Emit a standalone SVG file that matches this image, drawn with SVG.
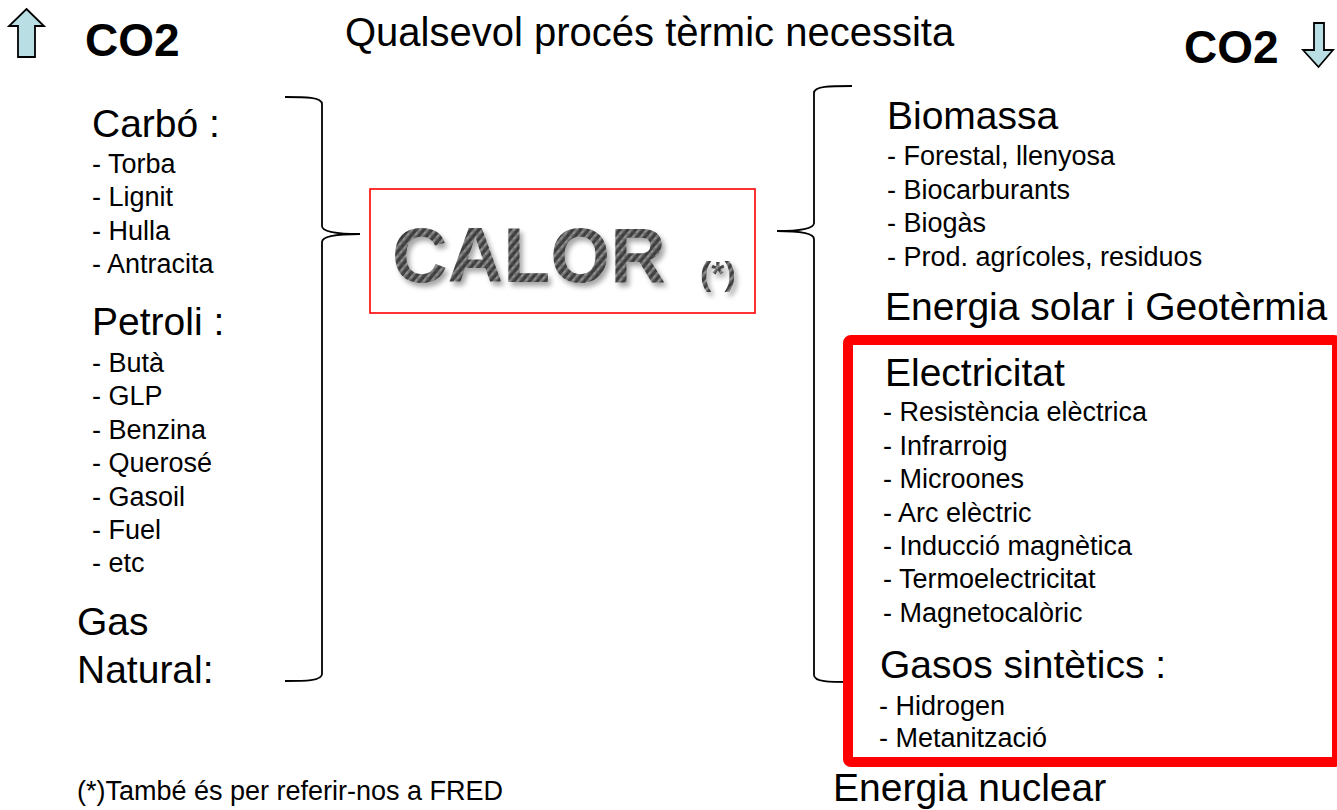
<svg xmlns="http://www.w3.org/2000/svg" width="1337" height="810" viewBox="0 0 1337 810">
<style>
text{font-family:"Liberation Sans",Arial,sans-serif;fill:#000}
.h{font-size:39px}
.i{font-size:27px}
.co2{font-size:46px;font-weight:bold}
.br{fill:none;stroke:#000;stroke-width:1.8}
.arr{fill:#B9DFE4;stroke:#000;stroke-width:1.8;stroke-linejoin:miter}
</style>
<defs>
<pattern id="carbon" width="6" height="6" patternUnits="userSpaceOnUse" patternTransform="rotate(-50)">
<rect width="6" height="6" fill="#3c3c3c"/>
<rect width="6" height="2.6" fill="#8e8e8e"/>
<rect x="0" y="0" width="3" height="6" fill="#555" opacity="0.35"/>
</pattern>
<filter id="sh" x="-10%" y="-10%" width="130%" height="140%">
<feDropShadow dx="3" dy="4" stdDeviation="2.5" flood-color="#000" flood-opacity="0.35"/>
</filter>
</defs>
<rect width="1337" height="810" fill="#fff"/>

<g id="co2-up">
<path class="arr" d="M26.5,9 L44,26 L35,26 L35,57 L18,57 L18,26 L9,26 Z"/>
<text class="co2" x="85" y="56">CO2</text>
</g>
<g id="title"><text x="345" y="46" style="font-size:40px">Qualsevol procés tèrmic necessita</text></g>
<g id="co2-down">
<text class="co2" x="1184" y="63">CO2</text>
<path class="arr" d="M1314,23 L1324,23 L1324,50 L1333,50 L1318.5,67 L1303,50 L1314,50 Z"/>
</g>

<g id="fossil">
<text class="h" x="92" y="137">Carbó :</text>
<text class="i" x="92" y="172.5">- Torba</text>
<text class="i" x="92" y="206">- Lignit</text>
<text class="i" x="92" y="239.5">- Hulla</text>
<text class="i" x="92" y="273">- Antracita</text>
<text class="h" x="92" y="335">Petroli :</text>
<text class="i" x="92" y="371.5">- Butà</text>
<text class="i" x="92" y="405">- GLP</text>
<text class="i" x="92" y="438.5">- Benzina</text>
<text class="i" x="92" y="472">- Querosé</text>
<text class="i" x="92" y="505.5">- Gasoil</text>
<text class="i" x="92" y="539">- Fuel</text>
<text class="i" x="92" y="572">- etc</text>
<text class="h" x="77" y="635">Gas</text>
<text class="h" x="77" y="683">Natural:</text>
</g>

<g id="calor">
<rect x="370" y="189" width="385" height="124" fill="#fff" stroke="#ff0000" stroke-width="1.6"/>
<text x="392" y="282" filter="url(#sh)" style="font-size:77px;font-weight:bold;fill:url(#carbon)">CALOR</text>
<text x="700" y="285" filter="url(#sh)" style="font-size:34px;font-weight:bold;fill:url(#carbon)">(*)</text>
</g>

<g id="renewable">
<text class="h" x="887" y="129">Biomassa</text>
<text class="i" x="887" y="165">- Forestal, llenyosa</text>
<text class="i" x="887" y="199">- Biocarburants</text>
<text class="i" x="887" y="232">- Biogàs</text>
<text class="i" x="887" y="266">- Prod. agrícoles, residuos</text>
<text class="h" x="885" y="320">Energia solar i Geotèrmia</text>
</g>

<g id="connectors">
<path class="br" d="M285,97 C305,97 322,97 322,104 L322,226 C322,232 340,234 360,234 C340,234 322,236 322,242 L322,674 C322,681 305,681 285,681"/>
<path class="br" d="M852,86 C830,86 814,86 814,93 L814,223 C814,229 797,231 777,231 C797,231 814,233 814,239 L814,675 C814,682 830,682 850,682"/>
</g>

<g id="electric">
<rect x="848" y="340" width="489" height="422" rx="3" fill="none" stroke="#ff0000" stroke-width="10" stroke-linejoin="round"/>
<text class="h" x="885" y="386">Electricitat</text>
<text class="i" x="883" y="421">- Resistència elèctrica</text>
<text class="i" x="883" y="455">- Infrarroig</text>
<text class="i" x="883" y="488">- Microones</text>
<text class="i" x="883" y="522">- Arc elèctric</text>
<text class="i" x="883" y="555">- Inducció magnètica</text>
<text class="i" x="883" y="588">- Termoelectricitat</text>
<text class="i" x="883" y="622">- Magnetocalòric</text>
<text class="h" x="880" y="678">Gasos sintètics :</text>
<text class="i" x="879" y="715">- Hidrogen</text>
<text class="i" x="879" y="747">- Metanització</text>
</g>

<g id="nuclear"><text class="h" x="833" y="801">Energia nuclear</text></g>
<g id="footnote"><text class="i" x="77" y="800">(*)També és per referir-nos a FRED</text></g>
</svg>
